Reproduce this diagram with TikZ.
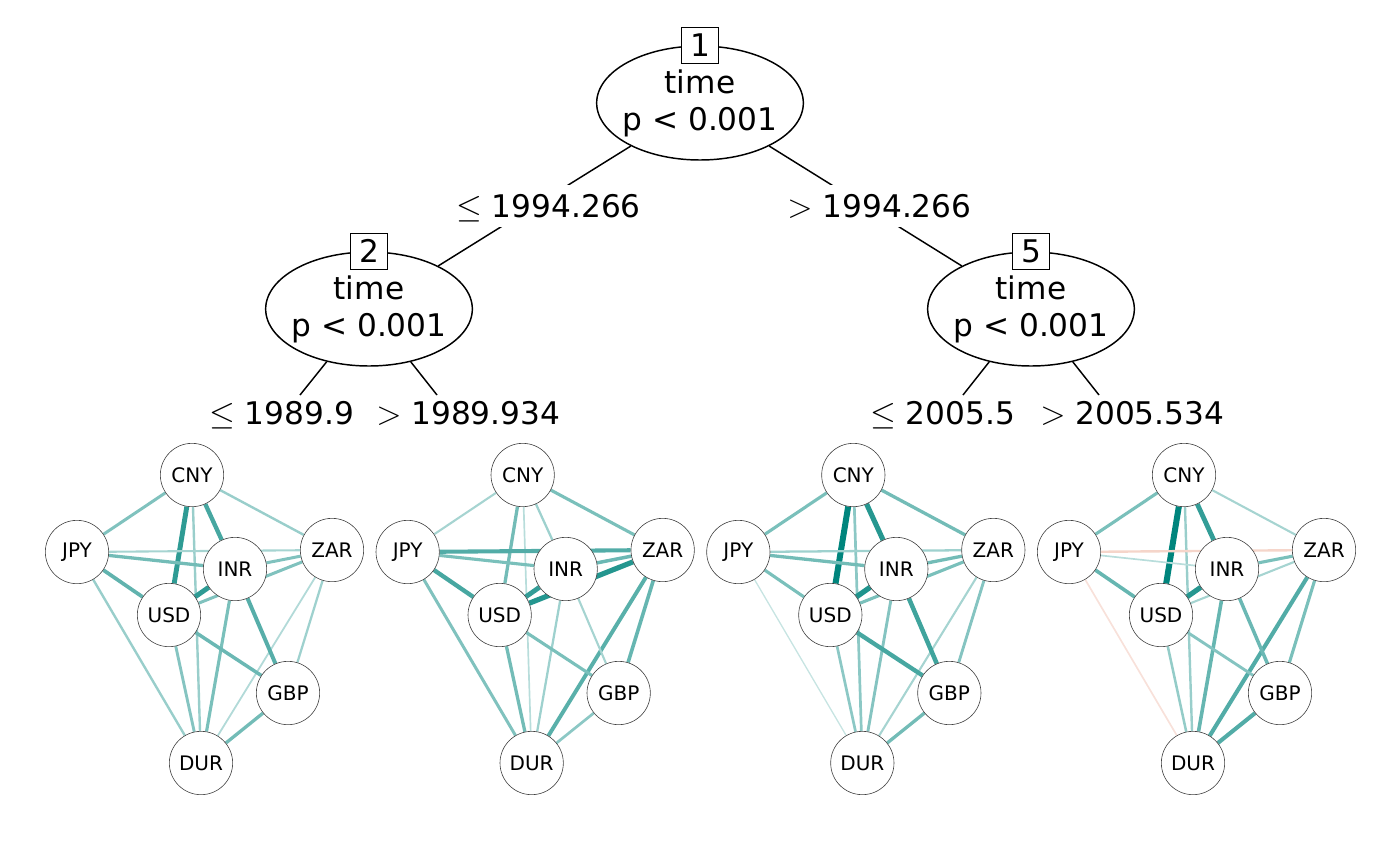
\documentclass[tikz,border=0pt]{standalone}
\usepackage{fontspec}
\setmainfont{DejaVu Sans}
\usetikzlibrary{shapes.geometric,backgrounds}
\definecolor{edgecol}{HTML}{00857D}
\definecolor{negcol}{HTML}{E6957A}
\tikzset{
  splitnode/.style={ellipse, draw, line width=1.1pt, fill=white, minimum width=155pt, minimum height=85.5pt, inner sep=-6pt, align=center, font=\fontsize{23.4}{27.75}\selectfont},
  idbox/.style={draw, line width=1.1pt, fill=white, minimum width=27.75pt, minimum height=27pt, inner sep=0pt, font=\fontsize{23.4}{28}\selectfont},
  brlabel/.style={fill=white, inner xsep=2pt, inner ysep=7.5pt, text height=17pt, text depth=0pt, font=\fontsize{23.4}{28}\selectfont},
  branch/.style={line width=1.1pt},
  currency/.style={circle, draw=black!75, line width=0.45pt, fill=white, minimum size=47.5pt, inner sep=0pt, font=\fontsize{15}{18}\selectfont},
  posedge/.style={draw=edgecol!#1!white, line width=#1*0.045pt},
  negedge/.style={draw=negcol!#1!white, line width=#1*0.045pt}
}
\begin{document}
\begin{tikzpicture}[x=0.75pt, y=-0.75pt]
\useasboundingbox (0,0) rectangle (1400,865);

% inner nodes of the tree
\node[splitnode] (n1) at (700,103) {time\\p < 0.001};
\node[splitnode] (n2) at (369,309) {time\\p < 0.001};
\node[splitnode] (n5) at (1031,309) {time\\p < 0.001};

\draw[branch] (n1) -- node[brlabel, xshift=10.5pt] {$\leq$ 1994.266} (n2);
\draw[branch] (n1) -- node[brlabel, xshift=10.5pt] {$>$ 1994.266} (n5);

\node[idbox] (id1) at (n1.north) {1};
\node[idbox] (id2) at (n2.north) {2};
\node[idbox] (id5) at (n5.north) {5};

% branches down to the terminal panels
\coordinate (e3) at (300,395);
\coordinate (e4) at (437,395);
\coordinate (e6) at (963,395);
\coordinate (e7) at (1099,395);
\draw[branch] (n2) -- (e3);
\draw[branch] (n2) -- (e4);
\draw[branch] (n5) -- (e6);
\draw[branch] (n5) -- (e7);

\node[brlabel, anchor=west, inner sep=0pt] (l3) at (209,413) {$\leq$ 1989.9};
\node[brlabel, anchor=west, inner sep=0pt] (l4) at (376,413) {$>$ 1989.934};
\node[brlabel, anchor=west, inner sep=0pt] (l6) at (870,413) {$\leq$ 2005.5};
\node[brlabel, anchor=west, inner sep=0pt] (l7) at (1040,413) {$>$ 2005.534};

% terminal nodes: partial correlation networks
\foreach \p/\dx in {3/0, 4/248, 6/496, 7/744} {
  \begin{scope}[xshift=\dx pt]
    \foreach \n/\x/\y in {CNY/192/475, JPY/77/552, ZAR/332/550, INR/235/569, USD/169/615, GBP/288/693, DUR/201/763}
      \node[currency] (\p\n) at (\x,\y) {\n};
  \end{scope}
}

\begin{pgfonlayer}{background}
% node 3
\foreach \a/\b/\w in {CNY/JPY/50, CNY/ZAR/40, CNY/USD/82, CNY/INR/72, CNY/DUR/40,
    JPY/ZAR/35, JPY/INR/55, JPY/USD/62, JPY/DUR/40,
    ZAR/INR/50, ZAR/USD/50, ZAR/GBP/38, ZAR/DUR/30,
    INR/USD/82, INR/GBP/66, INR/DUR/52,
    USD/GBP/58, USD/DUR/48, GBP/DUR/55}
  \draw[posedge=\w] (3\a) -- (3\b);
% node 4
\foreach \a/\b/\w in {CNY/JPY/35, CNY/ZAR/52, CNY/USD/55, CNY/INR/38, CNY/DUR/28,
    JPY/ZAR/68, JPY/INR/52, JPY/USD/72, JPY/DUR/50,
    ZAR/INR/58, ZAR/USD/86, ZAR/GBP/60, ZAR/DUR/65,
    INR/USD/80, INR/GBP/35, INR/DUR/38,
    USD/GBP/52, USD/DUR/55, GBP/DUR/45}
  \draw[posedge=\w] (4\a) -- (4\b);
% node 6
\foreach \a/\b/\w in {CNY/JPY/52, CNY/ZAR/55, CNY/USD/100, CNY/INR/85, CNY/DUR/45,
    JPY/ZAR/38, JPY/INR/55, JPY/USD/52, JPY/DUR/22,
    ZAR/INR/55, ZAR/USD/52, ZAR/GBP/48, ZAR/DUR/35,
    INR/USD/88, INR/GBP/75, INR/DUR/48,
    USD/GBP/72, USD/DUR/45, GBP/DUR/55}
  \draw[posedge=\w] (6\a) -- (6\b);
% node 7
\foreach \a/\b/\w in {CNY/JPY/52, CNY/ZAR/35, CNY/USD/100, CNY/INR/80, CNY/DUR/40,
    JPY/INR/28, JPY/USD/60,
    ZAR/INR/52, ZAR/USD/35, ZAR/GBP/52, ZAR/DUR/68,
    INR/USD/85, INR/GBP/58, INR/DUR/60,
    USD/GBP/48, USD/DUR/42, GBP/DUR/68}
  \draw[posedge=\w] (7\a) -- (7\b);
\draw[negedge=40] (7JPY) -- (7ZAR);
\draw[negedge=28] (7JPY) -- (7DUR);
\end{pgfonlayer}

\end{tikzpicture}
\end{document}
